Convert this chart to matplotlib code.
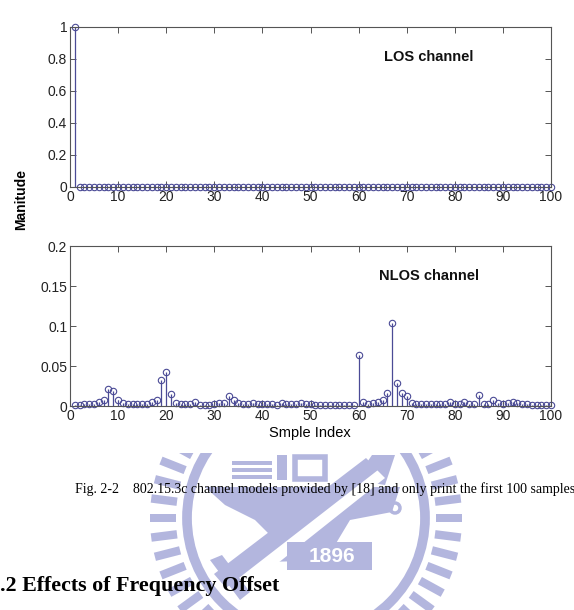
import numpy as np
import matplotlib
matplotlib.use('Agg')
import matplotlib.pyplot as plt
from matplotlib.patches import Rectangle, Polygon, Circle

# sample index 1..100
idx = list(range(1, 101))

# LOS channel: single path at index 1
los = [1.0] + [0.0] * 99

# NLOS channel magnitudes
nlos = [0.001, 0.001, 0.002, 0.002, 0.003, 0.005, 0.007, 0.021, 0.019, 0.007,
        0.004, 0.003, 0.003, 0.003, 0.003, 0.003, 0.005, 0.008, 0.032, 0.043,
        0.015, 0.004, 0.003, 0.003, 0.003, 0.005, 0.001, 0.001, 0.001, 0.002,
        0.004, 0.004, 0.012, 0.008, 0.004, 0.002, 0.002, 0.004, 0.002, 0.002,
        0.002, 0.003, 0.001, 0.004, 0.003, 0.003, 0.002, 0.004, 0.002, 0.002,
        0.001, 0.001, 0.001, 0.001, 0.001, 0.001, 0.001, 0.001, 0.001, 0.064,
        0.005, 0.002, 0.004, 0.005, 0.008, 0.016, 0.104, 0.029, 0.016, 0.013,
        0.004, 0.002, 0.002, 0.002, 0.002, 0.002, 0.002, 0.002, 0.005, 0.002,
        0.002, 0.005, 0.002, 0.002, 0.014, 0.002, 0.003, 0.008, 0.004, 0.002,
        0.004, 0.005, 0.004, 0.003, 0.002, 0.001, 0.001, 0.001, 0.001, 0.001]

xticks = list(range(0, 101, 10))
los_yticks = [0, 0.2, 0.4, 0.6, 0.8, 1]
los_ylabels = ['0', '0.2', '0.4', '0.6', '0.8', '1']
nlos_yticks = [0, 0.05, 0.1, 0.15, 0.2]
nlos_ylabels = ['0', '0.05', '0.1', '0.15', '0.2']

SANS = ['Liberation Sans', 'DejaVu Sans']
SERIF = ['Liberation Serif', 'DejaVu Serif']
STEM = '#4b4b96'
WM = '#b3b6de'

fig = plt.figure(figsize=(5.74, 6.10), dpi=100)
W, H = 574.0, 610.0

# --- faint university watermark behind everything (pixel coords)
wm = fig.add_axes([0, 0, 1, 1], zorder=0)
wm.set_xlim(0, W)
wm.set_ylim(H, 0)
wm.axis('off')
cx, cy = 306, 518
for ang in np.arange(0, 360, 7.2):
    a = np.deg2rad(ang)
    d = np.array([np.cos(a), np.sin(a)])
    p = np.array([-np.sin(a), np.cos(a)]) * 4.2
    c1 = np.array([cx, cy]) + d * 130
    c2 = np.array([cx, cy]) + d * 156
    wm.add_patch(Polygon([c1 + p, c2 + p, c2 - p, c1 - p], color=WM, lw=0))
wm.add_patch(Circle((cx, cy), 119, fill=False, ec=WM, lw=7))
# building / letters at top
for yy in (461, 468, 475):
    wm.add_patch(Rectangle((232, yy), 40, 4, color=WM, lw=0))
wm.add_patch(Rectangle((277, 455), 10, 25, color=WM, lw=0))
wm.add_patch(Rectangle((295, 457), 30, 22, fill=False, ec=WM, lw=4))
wm.add_patch(Polygon([(355, 480), (372, 455), (395, 455), (385, 485)], color=WM, lw=0))
# anvil
wm.add_patch(Polygon([(205, 487), (400, 487), (392, 512), (350, 520), (335, 545),
                      (352, 560), (262, 562), (275, 540), (255, 520), (225, 505)],
                     color=WM, lw=0))
wm.add_patch(Circle((395, 508), 5, fill=False, ec=WM, lw=2.5))
# hammer handle crossing the anvil
wm.add_patch(Polygon([(222, 585), (234, 598), (385, 478), (373, 466)], color='white', lw=0))
wm.add_patch(Polygon([(214, 574), (226, 588), (378, 470), (366, 458)], color=WM, lw=0))
wm.add_patch(Polygon([(210, 560), (240, 600), (250, 592), (222, 555)], color=WM, lw=0))
# year plate
wm.add_patch(Rectangle((287, 542), 85, 28, color=WM, lw=0))
wm.text(332, 556, '1896', color='white', fontsize=15, fontweight='bold',
        family=SANS, ha='center', va='center')
# the page above is plain white
wm.add_patch(Rectangle((0, 0), W, 453, color='white', lw=0, zorder=5))

# --- the two stem plots
ax1 = fig.add_axes([70 / W, 1 - 187 / H, 481 / W, 160 / H], zorder=2)
ax2 = fig.add_axes([70 / W, 1 - 406 / H, 481 / W, 160 / H], zorder=2)

for ax, y, yt, yl, ylim, label in [
        (ax1, los, los_yticks, los_ylabels, (0, 1), 'LOS channel'),
        (ax2, nlos, nlos_yticks, nlos_ylabels, (0, 0.2), 'NLOS channel')]:
    ax.patch.set_alpha(0)
    ml, sl, bl = ax.stem(idx, y, basefmt=' ')
    plt.setp(sl, color=STEM, linewidth=0.9)
    plt.setp(ml, color=STEM, markerfacecolor='none', markersize=4.6,
             markeredgewidth=0.8, clip_on=False)
    ax.set_xlim(0, 100)
    ax.set_ylim(*ylim)
    ax.set_xticks(xticks)
    ax.set_yticks(yt)
    ax.set_yticklabels(yl)
    ax.tick_params(direction='in', top=True, right=True, length=4,
                   width=0.7, color='#555555', labelsize=10, pad=2)
    for lab in ax.get_xticklabels() + ax.get_yticklabels():
        lab.set_family(SANS)
        lab.set_color('#222222')
    for s in ax.spines.values():
        s.set_color('#555555')
        s.set_linewidth(0.8)
    ax.text(0.746, 0.81, label, transform=ax.transAxes, ha='center', va='center',
            fontsize=10.5, fontweight='bold', family=SANS, color='#111111')

fig.text(21 / W, 1 - 200 / H, 'Manitude', rotation=90, ha='center', va='center',
         fontsize=10, fontweight='bold', family=SANS)
fig.text(310 / W, 1 - 433 / H, 'Smple Index', ha='center', va='center',
         fontsize=10.5, family=SANS)

# caption and section heading of the thesis page
fig.text(75 / W, 1 - 489 / H,
         'Fig. 2-2    802.15.3c channel models provided by [18] and only print the first 100 samples',
         ha='left', va='center', fontsize=10, family=SERIF, zorder=3)
fig.text(0, 1 - 586 / H, '.2 Effects of Frequency Offset', ha='left', va='center',
         fontsize=15.8, fontweight='bold', family=SERIF, zorder=3)

fig.savefig('out.png', dpi=100)
